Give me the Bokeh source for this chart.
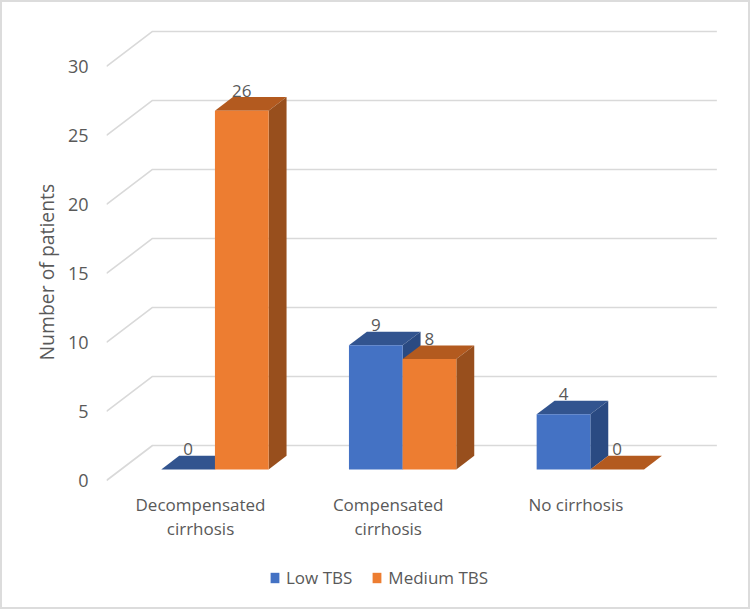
from bokeh.plotting import figure
from bokeh.models import Legend, LegendItem, FixedTicker, ColumnDataSource, Title, InlineStyleSheet
from bokeh.core.properties import value
from bokeh.embed import file_html
from bokeh.resources import INLINE

categories = ["Decompensated\ncirrhosis", "Compensated\ncirrhosis", "No cirrhosis"]
low_tbs = [0, 9, 4]
medium_tbs = [26, 8, 0]
y_ticks = [0, 5, 10, 15, 20, 25, 30]
series_names = ["Low TBS", "Medium TBS"]
y_title = "Number of patients"

FONT = "Open Sans"
TEXT = "#595959"
GRID = "#d9d9d9"
COLORS = {
    "low": ("#4472C4", "#32548F", "#2A4A82"),
    "med": ("#ED7D31", "#B35A1F", "#984F1D"),
}

# scales: one category = 187.7 px, one patient = 13.8 px
X0, X1 = -0.5008, 2.8237
Y0, Y1 = -8.478, 33.04
GRID_END = 2.751
FLOOR_DX, FLOOR_DY = 0.245, 2.536   # depth of the 3-D floor
BAR_W = 0.286
BAR_F, BAR_D = 0.314, 0.39          # bar position and depth, as fractions of the floor
LABEL_GAP = 1.45

p = figure(frame_width=624, frame_height=573, x_range=(X0, X1), y_range=(Y0, Y1),
           output_backend="svg", toolbar_location=None,
           min_border_left=106, min_border_right=20, min_border_top=24, min_border_bottom=12)
p.stylesheets = [InlineStyleSheet(css=":host::after{content:'';position:absolute;left:0;top:0;"
                                      "width:750px;height:609px;box-sizing:border-box;"
                                      "border:2.5px solid #dcdcdc;pointer-events:none;z-index:10;}")]
p.outline_line_color = None
p.grid.visible = False

# axes
ya = p.yaxis[0]
ya.ticker = FixedTicker(ticks=y_ticks)
ya.axis_line_color = None
ya.major_tick_line_color = None
ya.minor_tick_line_color = None
ya.major_label_standoff = 12
ya.major_label_text_font = FONT
ya.major_label_text_font_size = "18px"
ya.major_label_text_color = TEXT

p.add_layout(Title(text=y_title, align="left", offset=237, standoff=9,
                   text_font=FONT, text_font_size="19.4px", text_font_style="normal",
                   text_color=TEXT), "left")

xa = p.xaxis[0]
xa.ticker = FixedTicker(ticks=list(range(len(categories))))
xa.major_label_overrides = {i: c for i, c in enumerate(categories)}
xa.axis_line_color = None
xa.major_tick_line_color = None
xa.minor_tick_line_color = None
xa.major_label_standoff = -111
xa.major_label_text_font = FONT
xa.major_label_text_font_size = "17px"
xa.major_label_text_color = TEXT
xa.major_label_text_line_height = 1.07

# 3-D gridlines
p.multi_line(xs=[[X0, X0 + FLOOR_DX, GRID_END] for _ in y_ticks],
             ys=[[v, v + FLOOR_DY, v + FLOOR_DY] for v in y_ticks],
             line_color=GRID, line_width=1.6)

fx, fy = BAR_F * FLOOR_DX, BAR_F * FLOOR_DY
dx, dy = BAR_D * FLOOR_DX, BAR_D * FLOOR_DY

def bars(vals, shift, cols):
    lefts = [i + fx + shift for i in range(len(vals))]
    rights = [l + BAR_W for l in lefts]
    tops = [v + fy for v in vals]
    base = fy
    p.patches(xs=[[l, r, r + dx, l + dx] for l, r in zip(lefts, rights)],
              ys=[[t, t, t + dy, t + dy] for t in tops],
              fill_color=cols[1], line_color=None)
    p.patches(xs=[[r, r + dx, r + dx, r] for r in rights],
              ys=[[base, base + dy, t + dy, t] for t in tops],
              fill_color=cols[2], line_color=None)
    front = p.quad(left=lefts, right=rights, bottom=[base] * len(vals), top=tops,
                   fill_color=cols[0], line_color=None)
    return front, [(l + r) / 2 for l, r in zip(lefts, rights)], tops

r_low, lx, lt = bars(low_tbs, -BAR_W, COLORS["low"])
r_med, mx, mt = bars(medium_tbs, 0, COLORS["med"])

# data labels
for xs_, tops_, vals_ in ((lx, lt, low_tbs), (mx, mt, medium_tbs)):
    src = ColumnDataSource(dict(x=xs_, y=[t + LABEL_GAP for t in tops_], t=[str(v) for v in vals_]))
    p.text(x="x", y="y", text="t", source=src, text_align="center", text_baseline="middle",
           text_font=value(FONT), text_font_size="17px", text_color=TEXT)

legend = Legend(items=[LegendItem(label=series_names[0], renderers=[r_low]),
                       LegendItem(label=series_names[1], renderers=[r_med])],
                orientation="horizontal", location=(163, 8),
                border_line_color=None, background_fill_alpha=0, margin=0, padding=0,
                glyph_width=11, glyph_height=13, label_standoff=6, spacing=19,
                label_text_font=FONT, label_text_font_size="17px", label_text_color=TEXT)
p.add_layout(legend)

open("out.html", "w").write(file_html(p, INLINE))
